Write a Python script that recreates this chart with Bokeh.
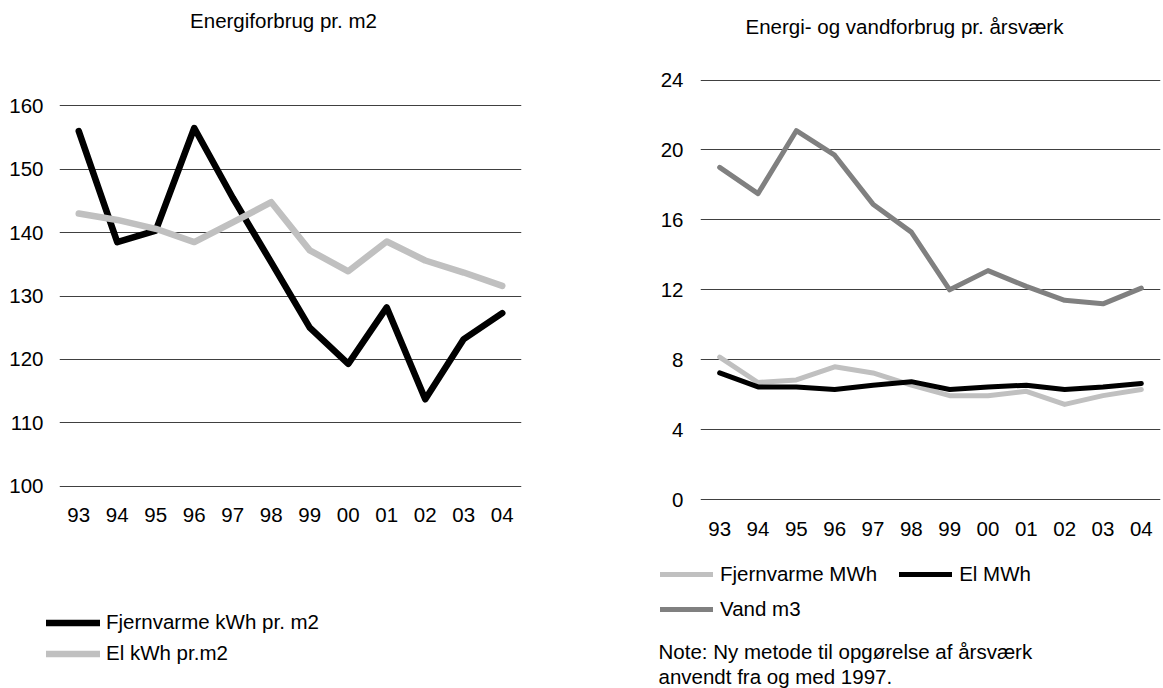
from bokeh.plotting import figure
from bokeh.layouts import row, column
from bokeh.models import FactorRange, Range1d, FixedTicker, Legend, LegendItem, Label
from bokeh.embed import file_html
from bokeh.resources import INLINE

# ---------------- data ----------------
years = ["93", "94", "95", "96", "97", "98", "99", "00", "01", "02", "03", "04"]

# Left chart: Energiforbrug pr. m2
fjernvarme_kwh_m2 = [156.0, 138.5, 140.3, 156.5, 145.5, 135.3, 125.0, 119.3, 128.2, 113.7, 123.2, 127.3]
el_kwh_m2 = [143.0, 142.0, 140.6, 138.5, 141.6, 144.8, 137.2, 133.9, 138.6, 135.6, 133.7, 131.6]
left_ticks = [100, 110, 120, 130, 140, 150, 160]

# Right chart: Energi- og vandforbrug pr. årsværk
fjernvarme_mwh = [8.15, 6.7, 6.85, 7.6, 7.25, 6.55, 5.95, 5.95, 6.2, 5.45, 5.95, 6.3]
el_mwh = [7.25, 6.45, 6.45, 6.3, 6.55, 6.75, 6.3, 6.45, 6.55, 6.3, 6.45, 6.65]
vand_m3 = [19.0, 17.5, 21.1, 19.7, 16.9, 15.3, 12.0, 13.1, 12.2, 11.4, 11.2, 12.1]
right_ticks = [0, 4, 8, 12, 16, 20, 24]

title_left = "Energiforbrug pr. m2"
title_right = "Energi- og vandforbrug pr. årsværk"
legend_left = ["Fjernvarme kWh pr. m2", "El kWh pr.m2"]
legend_right = ["Fjernvarme MWh", "El MWh", "Vand m3"]
note_lines = ["Note: Ny metode til opgørelse af årsværk", "anvendt fra og med 1997."]

# ---------------- style / layout ----------------
FONT = "Liberation Sans"
FS = "20.5px"
BLACK = "#000000"
LIGHT = "#c0c0c0"
MID = "#808080"
GRID = "#404040"
LW_L = 6.5
LW_R = 5
NAN = float("nan")

COL_L = 628          # width of left column
COL_R = 535          # width of right column
TOP_H = 45           # title strip
MID_H = 511          # chart strip
BOT_H = 132          # legend / note strip

# common plot frame (page pixels) for both charts
F_TOP, F_BOT = 71, 508
F_H = F_BOT - F_TOP


def frame_range(v_hi, px_hi, v_lo, px_lo):
    per_px = (v_hi - v_lo) / (px_lo - px_hi)
    return Range1d(v_lo - (F_BOT - px_lo) * per_px, v_hi + (px_hi - F_TOP) * per_px)


def blank(w, h):
    p = figure(width=w, height=h, x_range=Range1d(0, w), y_range=Range1d(h, 0),
               x_axis_location=None, y_axis_location=None,
               output_backend="svg", toolbar_location=None,
               min_border=0, min_border_left=0, min_border_right=0,
               min_border_top=0, min_border_bottom=0)
    p.outline_line_color = None
    p.background_fill_color = "white"
    p.border_fill_color = "white"
    p.grid.visible = False
    return p


def style(p, ticks, x_standoff, y_standoff):
    p.outline_line_color = None
    p.background_fill_color = "white"
    p.border_fill_color = "white"
    p.xgrid.visible = False
    p.ygrid.grid_line_color = GRID
    p.ygrid.grid_line_width = 1
    p.yaxis.ticker = FixedTicker(ticks=ticks)
    for ax in (p.xaxis[0], p.yaxis[0]):
        ax.axis_line_color = None
        ax.major_tick_line_color = None
        ax.minor_tick_line_color = None
        ax.major_tick_in = 0
        ax.major_tick_out = 0
        ax.major_label_text_font = FONT
        ax.major_label_text_font_size = FS
        ax.major_label_text_color = BLACK
    p.xaxis[0].major_label_standoff = x_standoff
    p.yaxis[0].major_label_standoff = y_standoff


def make_legend(items, vx, vy, orientation, glyph_w, row_h, standoff, spacing):
    return Legend(items=items, location=(vx, vy), orientation=orientation,
                  glyph_width=glyph_w, glyph_height=row_h, label_height=row_h,
                  label_standoff=standoff, spacing=spacing, padding=0, margin=0,
                  border_line_color=None, background_fill_alpha=0,
                  inactive_fill_alpha=0,
                  label_text_font=FONT, label_text_font_size=FS,
                  label_text_color=BLACK)


def text(p, x, y, s, align):
    p.add_layout(Label(x=x, y=y, text=s, text_align=align, text_baseline="middle",
                       text_font=FONT, text_font_size=FS, text_color=BLACK))


# ---- title strip ----
t1 = blank(COL_L, TOP_H)
text(t1, 283, 20, title_left, "center")
t2 = blank(COL_R, TOP_H)
text(t2, 904 - COL_L, 26, title_right, "center")

# ---- left chart ----
p1 = figure(width=COL_L, height=MID_H, x_range=FactorRange(*years, range_padding=0),
            y_range=frame_range(160, 105.3, 100, 485.7),
            output_backend="svg", toolbar_location=None,
            min_border_left=59, min_border_right=COL_L - 521,
            min_border_top=F_TOP - TOP_H, min_border_bottom=TOP_H + MID_H - F_BOT)
style(p1, left_ticks, -1, 16)
p1.line(years, fjernvarme_kwh_m2, line_color=BLACK, line_width=LW_L,
        line_cap="round", line_join="round")
p1.line(years, el_kwh_m2, line_color=LIGHT, line_width=LW_L,
        line_cap="round", line_join="round")

# ---- right chart ----
p2 = figure(width=COL_R, height=MID_H, x_range=FactorRange(*years, range_padding=0),
            y_range=frame_range(24, 79.5, 0, 499.2),
            output_backend="svg", toolbar_location=None,
            min_border_left=700 - COL_L, min_border_right=3,
            min_border_top=F_TOP - TOP_H, min_border_bottom=TOP_H + MID_H - F_BOT)
style(p2, right_ticks, 13, 17)
p2.line(years, fjernvarme_mwh, line_color=LIGHT, line_width=LW_R,
        line_cap="round", line_join="round")
p2.line(years, el_mwh, line_color=BLACK, line_width=LW_R,
        line_cap="round", line_join="round")
p2.line(years, vand_m3, line_color=MID, line_width=LW_R,
        line_cap="round", line_join="round")

# ---- legend / note strip ----
Y0 = TOP_H + MID_H   # page y of strip top
b1 = blank(COL_L, BOT_H)
k1 = b1.line([NAN], [NAN], line_color=BLACK, line_width=LW_L, line_cap="round")
k2 = b1.line([NAN], [NAN], line_color=LIGHT, line_width=LW_L, line_cap="round")
b1.add_layout(make_legend([LegendItem(label=legend_left[0], renderers=[k1]),
                           LegendItem(label=legend_left[1], renderers=[k2])],
                          46, 688 - 668.5, "vertical", 54, 31, 6, 0))

b2 = blank(COL_R, BOT_H)
k3 = b2.line([NAN], [NAN], line_color=LIGHT, line_width=LW_R, line_cap="round")
k4 = b2.line([NAN], [NAN], line_color=BLACK, line_width=LW_R, line_cap="round")
k5 = b2.line([NAN], [NAN], line_color=MID, line_width=LW_R, line_cap="round")
b2.add_layout(make_legend([LegendItem(label=legend_right[0], renderers=[k3]),
                           LegendItem(label=legend_right[1], renderers=[k4])],
                          660 - COL_L, 688 - 589, "horizontal", 53, 30, 7, 22))
b2.add_layout(make_legend([LegendItem(label=legend_right[2], renderers=[k5])],
                          660 - COL_L, 688 - 623.5, "vertical", 53, 30, 7, 0))
text(b2, 658 - COL_L, 651 - Y0, note_lines[0], "left")
text(b2, 658 - COL_L, 676 - Y0, note_lines[1], "left")

layout = column(row(t1, t2), row(p1, p2), row(b1, b2))
open("out.html", "w").write(file_html(layout, INLINE))
